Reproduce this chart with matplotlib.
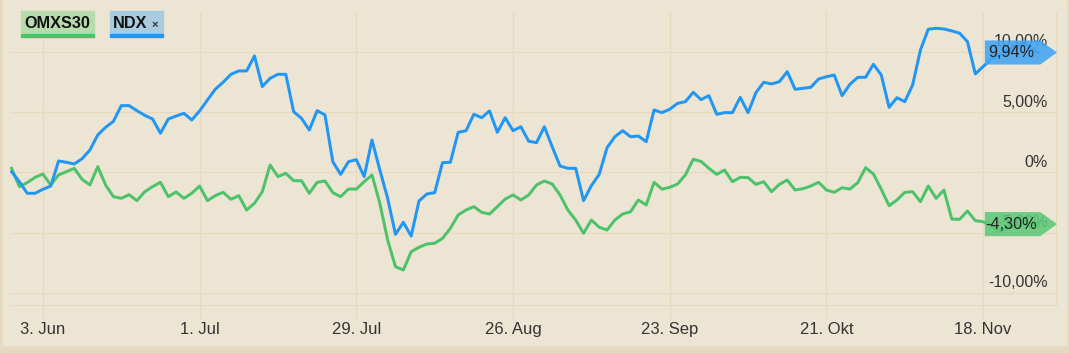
import pandas as pd
import matplotlib.pyplot as plt
from matplotlib.patches import Rectangle, Polygon

plt.rcParams['font.family'] = ['Liberation Sans', 'DejaVu Sans']

# trading days, ordinal axis (no gaps)
dates = pd.bdate_range('2024-05-28', periods=132)

# % change since start
ndx = [0.05, -0.78, -1.74, -1.74, -1.41, -1.14, 0.94, 0.83, 0.69, 1.13,
       1.85, 3.10, 3.73, 4.23, 5.53, 5.53, 5.11, 4.73, 4.42, 3.24,
       4.42, 4.67, 4.89, 4.34, 5.09, 6.00, 6.89, 7.47, 8.13, 8.41,
       8.41, 9.65, 7.11, 7.80, 8.13, 8.13, 5.03, 4.48, 3.51, 5.11,
       4.76, 0.88, -0.17, 0.88, 1.05, -0.36, 2.68, 0.19, -2.16, -5.15,
       -4.15, -5.29, -2.38, -1.80, -1.69, 0.80, 0.83, 3.32, 3.45, 4.81,
       4.53, 5.09, 3.32, 4.53, 3.45, 3.78, 2.58, 2.46, 3.78, 2.12,
       0.52, 0.33, 0.33, -2.35, -1.11, -0.17, 2.04, 2.95, 3.45, 2.95,
       3.01, 2.54, 5.17, 4.95, 5.23, 5.72, 5.86, 6.64, 6.03, 6.36,
       4.81, 4.95, 4.95, 6.22, 4.95, 6.61, 7.47, 7.33, 7.52, 8.35,
       6.89, 6.97, 7.05, 7.74, 7.93, 8.07, 6.36, 7.30, 7.88, 7.88,
       8.96, 8.07, 5.39, 6.19, 5.86, 7.24, 10.15, 11.87, 11.95, 11.89,
       11.73, 11.54, 10.84, 8.16, 8.77, 9.38, 9.7, 10.1, 10.4, 10.7,
       10.4, 9.94]

omx = [0.33, -1.19, -0.86, -0.42, -0.14, -1.05, -0.22, 0.05, 0.33, -0.58,
       -1.05, 0.47, -1.05, -2.02, -2.16, -1.86, -2.35, -1.61, -1.19, -0.83,
       -2.02, -1.63, -2.16, -1.74, -1.14, -2.35, -1.94, -1.66, -2.24, -1.94,
       -3.13, -2.57, -1.61, 0.61, -0.36, -0.08, -0.70, -0.70, -1.74, -0.83,
       -0.72, -1.69, -2.02, -1.39, -1.39, -0.78, -0.22, -2.57, -5.62, -7.83,
       -8.11, -6.59, -6.22, -5.95, -5.89, -5.48, -4.65, -3.54, -3.13, -2.85,
       -3.32, -3.46, -2.85, -2.22, -1.88, -2.30, -1.88, -1.05, -0.72, -0.97,
       -1.88, -3.13, -3.96, -5.06, -3.96, -4.56, -4.79, -3.96, -3.46, -3.27,
       -2.30, -2.71, -0.83, -1.39, -1.25, -0.97, -0.22, 1.08, 0.90, 0.33,
       -0.17, 0.19, -0.78, -0.42, -0.44, -1.00, -0.78, -1.61, -1.00, -0.64,
       -1.47, -1.36, -1.14, -0.83, -1.47, -1.66, -1.28, -1.39, -0.86, 0.38,
       -0.14, -1.41, -2.77, -2.30, -1.66, -1.61, -2.44, -1.14, -2.16, -1.47,
       -3.88, -3.90, -3.21, -4.01, -4.10, -4.37, -4.93, -4.6, -4.5, -4.4,
       -4.2, -4.30]

tick_dates = ['2024-06-03', '2024-07-01', '2024-07-29', '2024-08-26',
              '2024-09-23', '2024-10-21', '2024-11-18']
months = {6: 'Jun', 7: 'Jul', 8: 'Aug', 9: 'Sep', 10: 'Okt', 11: 'Nov'}
y_ticks = [-10, -5, 0, 5, 10]
y_labels = ['-10,00%', '-5,00%', '0%', '5,00%', '10,00%']

BLUE = '#2196f3'
GREEN = '#4cc36a'
GRID = '#e6d9bd'
TXT = '#333333'
W, H = 1069, 353

fig = plt.figure(figsize=(W / 100, H / 100), dpi=100)
fig.patch.set_facecolor('#e6d9bf')
fig.add_artist(Rectangle((3 / W, 1 - 345 / H), 1063 / W, 345 / H,
                         transform=fig.transFigure, color='#ede5d4', zorder=0))

ax = fig.add_axes([10 / W, 1 - 305 / H, 1046 / W, 293 / H])
ax.set_facecolor('#ede5d4')

x = range(len(dates))
ax.plot(x, omx, color=GREEN, lw=2.15, solid_joinstyle='round', zorder=3)
ax.plot(x, ndx, color=BLUE, lw=2.15, solid_joinstyle='round', zorder=4)

ax.set_xlim(-0.2, 133.3)
ax.set_ylim(-11.01, 13.3)

tpos = dates.get_indexer(pd.to_datetime(tick_dates))
tlab = ['%d. %s' % (d.day, months[d.month]) for d in pd.to_datetime(tick_dates)]
ax.set_xticks(tpos)
ax.set_xticklabels(tlab, fontsize=12, color=TXT)
ax.tick_params(axis='x', length=10, width=1, color=GRID, pad=2)
ax.set_yticks(y_ticks)
ax.tick_params(axis='y', length=0, labelleft=False)
ax.grid(True, color=GRID, lw=1)
ax.set_axisbelow(True)
for s in ['top', 'left']:
    ax.spines[s].set_visible(False)
for s in ['bottom', 'right']:
    ax.spines[s].set_color(GRID)

ytr = ax.get_yaxis_transform()
for v, lab in zip(y_ticks, y_labels):
    ax.annotate(lab, xy=(0.992, v), xycoords=ytr, xytext=(0, 7.2),
                textcoords='offset points', ha='right', va='center',
                fontsize=11.5, color=TXT, zorder=2)

# last value flags (they sit on top of the axis labels, as in the source)
def flag(v, color, text):
    pts = [(0.932, v - 1.0), (0.985, v - 1.0), (1.001, v), (0.985, v + 1.0), (0.932, v + 1.0)]
    ax.add_patch(Polygon(pts, closed=True, transform=ytr, facecolor=color,
                         edgecolor='none', alpha=0.88, clip_on=False, zorder=6))
    ax.text(0.9575, v, text, transform=ytr, ha='center', va='center',
            fontsize=11.7, color='#222222', zorder=7, clip_on=False)

flag(ndx[-1], '#42a5f5', '9,94%')
flag(omx[-1], '#5cc978', '-4,30%')

# legend chips
def chip(x0, x1, color_bg, color_line):
    fig.add_artist(Rectangle((x0 / W, 1 - 34 / H), (x1 - x0) / W, 23 / H,
                             transform=fig.transFigure, color=color_bg, zorder=5))
    fig.add_artist(Rectangle((x0 / W, 1 - 37 / H), (x1 - x0) / W, 3 / H,
                             transform=fig.transFigure, color=color_line, zorder=5))

chip(21, 94, '#b6dcae', GREEN)
chip(110, 163, '#a9cbe0', BLUE)
fig.text(57.5 / W, 1 - 23 / H, 'OMXS30', ha='center', va='center',
         fontsize=11.7, fontweight='bold', color='#111111', zorder=6)
fig.text(113 / W, 1 - 23 / H, 'NDX', ha='left', va='center',
         fontsize=11.7, fontweight='bold', color='#111111', zorder=6)
fig.text(155 / W, 1 - 25 / H, '×', ha='center', va='center',
         fontsize=8, fontweight='bold', color='#333333', zorder=6)

fig.savefig('out.png', dpi=100, facecolor=fig.get_facecolor())
